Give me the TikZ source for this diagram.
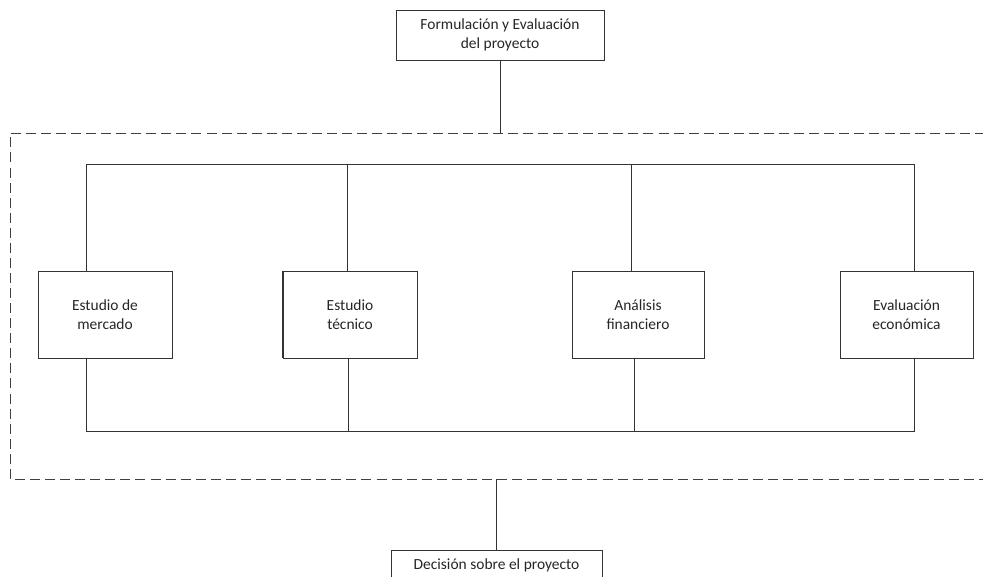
\documentclass[tikz,border=0pt]{standalone}
\usepackage{fontspec}
\setmainfont{Carlito}
\usetikzlibrary{calc}
\begin{document}
\begin{tikzpicture}[x=0.75pt,y=-0.75pt,
  line/.style={draw=black!80,line width=0.65pt},
  box/.style={line,rectangle,fill=white,align=center,inner sep=2pt,
    font=\fontsize{11.6}{14}\selectfont,text=black!85},
  frame/.style={draw=black!75,line width=0.65pt,dash pattern=on 7.5pt off 3.8pt}]
\useasboundingbox (0,0) rectangle (983,577);

% process boxes
\node[box,minimum width={208*0.75pt},minimum height={50*0.75pt}] (top) at (500,35)
  {Formulación y Evaluación\\del proyecto};
\node[box,minimum width={134*0.75pt},minimum height={87*0.75pt}] (b1) at (105,314.5)
  {Estudio de\\mercado};
\node[box,minimum width={134*0.75pt},minimum height={87*0.75pt}] (b2) at (350,314.5)
  {Estudio\\técnico};
\node[box,minimum width={132*0.75pt},minimum height={87*0.75pt}] (b3) at (638,314.5)
  {Análisis\\financiero};
\node[box,minimum width={133*0.75pt},minimum height={87*0.75pt}] (b4) at (906.5,314.5)
  {Evaluación\\económica};
\node[box,minimum width={211*0.75pt},minimum height={30*0.75pt}] (bot) at (496.5,565)
  {Decisión sobre el proyecto};

% thicker left edge of the technical-study box
\draw[line,line width=1.4pt] (b2.north west) -- (b2.south west);

% dashed frame, open on the right
\coordinate (ftop) at (10,133);
\coordinate (fbot) at (10,479);
\draw[frame] (1000,133) -- (ftop) -- (fbot) -- (1000,479);

% rails
\coordinate (railT) at (0,164);
\coordinate (railB) at (0,431);

% attachment points on the boxes
\coordinate (b1t) at ($(b1.north west)!0.36!(b1.north east)$);
\coordinate (b2t) at ($(b2.north west)!0.48!(b2.north east)$);
\coordinate (b3t) at ($(b3.north west)!0.45!(b3.north east)$);
\coordinate (b4t) at ($(b4.north west)!0.56!(b4.north east)$);
\coordinate (b1b) at ($(b1.south west)!0.36!(b1.south east)$);
\coordinate (b2b) at ($(b2.south west)!0.49!(b2.south east)$);
\coordinate (b3b) at ($(b3.south west)!0.47!(b3.south east)$);
\coordinate (b4b) at ($(b4.south west)!0.56!(b4.south east)$);

% connectors
\draw[line] (top.south) -- (top.south |- ftop);
\draw[line] (b1t) -- (b1t |- railT) -- (b4t |- railT) -- (b4t);
\draw[line] (b2t) -- (b2t |- railT);
\draw[line] (b3t) -- (b3t |- railT);
\draw[line] (b1b) -- (b1b |- railB) -- (b4b |- railB) -- (b4b);
\draw[line] (b2b) -- (b2b |- railB);
\draw[line] (b3b) -- (b3b |- railB);
\draw[line] (bot.north) -- (bot.north |- fbot);
\end{tikzpicture}
\end{document}
